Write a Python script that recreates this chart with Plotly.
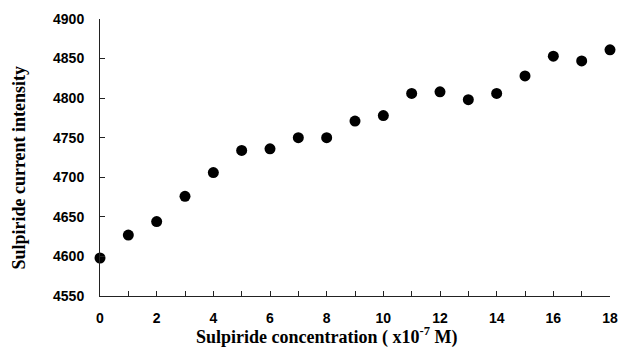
import plotly.graph_objects as go

# Sulpiride concentration (x10^-7 M) and measured current intensity
concentration = list(range(0, 19))
intensity = [4598, 4627, 4644, 4676, 4706, 4734, 4736, 4750, 4750, 4771,
             4778, 4806, 4808, 4798, 4806, 4828, 4853, 4847, 4861]

x_ticks = [0, 2, 4, 6, 8, 10, 12, 14, 16, 18]
y_ticks = [4550, 4600, 4650, 4700, 4750, 4800, 4850, 4900]

fig = go.Figure()
fig.add_trace(go.Scatter(
    x=concentration, y=intensity, mode="markers",
    marker=dict(color="black", size=11),
    cliponaxis=False, showlegend=False,
))

tick_font = dict(family="Liberation Sans, Arial, sans-serif", size=14,
                 color="black", weight="bold")
title_font = dict(family="Liberation Serif, Times New Roman, serif", size=18, color="black")

fig.update_xaxes(
    range=[0, 18], tickvals=x_ticks, ticktext=[str(v) for v in x_ticks],
    showgrid=False, zeroline=False, showline=True, linecolor="#222", linewidth=1,
    ticks="inside", ticklen=5, tickcolor="#222",
    minor=dict(ticks="inside", ticklen=5, tickcolor="#222", dtick=1, tick0=0),
    tickfont=tick_font, ticklabelstandoff=9,
)
fig.update_yaxes(
    range=[4550, 4900], tickvals=y_ticks, ticktext=[str(v) for v in y_ticks],
    showgrid=False, zeroline=False, showline=True, linecolor="#222", linewidth=1,
    ticks="inside", ticklen=5, tickcolor="#222",
    tickfont=tick_font, ticklabelstandoff=12,
)

fig.add_annotation(
    text="<b>Sulpiride concentration ( x10<sup>-7</sup> M)</b>",
    xref="paper", yref="paper", x=(330 - 100) / 518, y=-0.144,
    xanchor="center", yanchor="middle", showarrow=False, font=title_font,
)
fig.add_annotation(
    text="<b>Sulpiride current intensity</b>",
    xref="paper", yref="paper", x=-0.158, y=0.465, textangle=-90,
    xanchor="center", yanchor="middle", showarrow=False, font=title_font,
)

fig.update_layout(
    width=629, height=353, autosize=False,
    margin=dict(l=100, r=11, t=18, b=57),
    paper_bgcolor="white", plot_bgcolor="white",
)

fig.write_html("out.html")
